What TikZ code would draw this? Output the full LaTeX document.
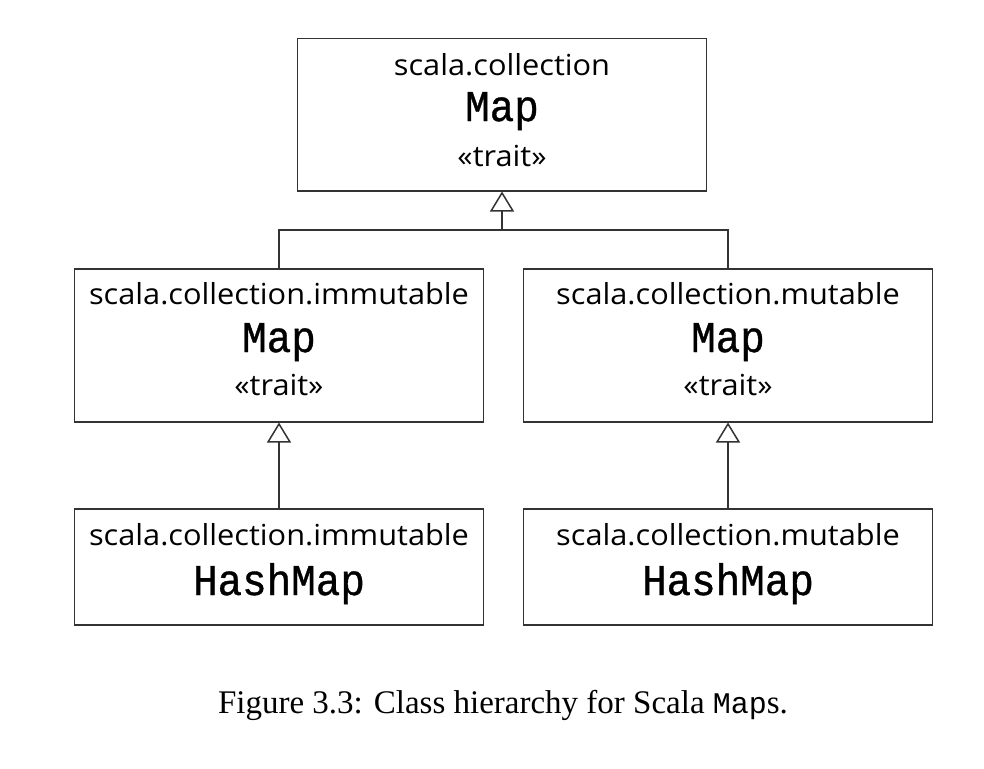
\documentclass[tikz,border=0pt]{standalone}
\usepackage{fontspec}
\setmainfont{Liberation Serif}
\newfontfamily\boxsans[FakeStretch=1.06]{Open Sans}
\newfontfamily\boxmono[FakeBold=0.8,FakeStretch=0.93]{Liberation Mono}
\newfontfamily\capmono{Liberation Mono}
\usetikzlibrary{arrows.meta}
\begin{document}
\begin{tikzpicture}[x=1pt,y=-1pt,
  cls/.style={draw=black!80,line width=1.5pt,fill=white,minimum width=409pt,inner sep=0pt,anchor=north},
  pkg/.style={anchor=base,inner sep=0pt,font=\fontsize{29}{32}\selectfont\boxsans},
  nm/.style={anchor=base,inner sep=0pt,font=\fontsize{44}{48}\selectfont\boxmono},
  inh/.style={draw=black!80,line width=1.5pt,-{Triangle[open,length=20pt,width=24pt,line width=1.5pt]}},
  wire/.style={draw=black!80,line width=1.5pt}]
\useasboundingbox (0,0) rectangle (984,768);
\fill[white] (0,0) rectangle (984,768);
% boxes
\node[cls,minimum height=152pt] (top) at (502,38) {};
\node[cls,minimum height=153pt] (iml) at (279,268) {};
\node[cls,minimum height=153pt] (mul) at (728,268) {};
\node[cls,minimum height=116pt] (imh) at (279,508) {};
\node[cls,minimum height=116pt] (muh) at (728,508) {};
% texts
\node[pkg] (t1) at (502,75) {scala.collection};
\node[nm] (t2) at (502,121) {Map};
\node[pkg] (t3) at (502,166) {«trait»};
\node[pkg] (a1) at (279,304) {scala.collection.immutable};
\node[nm] (a2) at (279,352) {Map};
\node[pkg] (a3) at (279,395) {«trait»};
\node[pkg] (b1) at (728,304) {scala.collection.mutable};
\node[nm] (b2) at (728,352) {Map};
\node[pkg] (b3) at (728,395) {«trait»};
\node[pkg] (c1) at (279,545) {scala.collection.immutable};
\node[nm] (c2) at (279,595) {HashMap};
\node[pkg] (d1) at (728,545) {scala.collection.mutable};
\node[nm] (d2) at (728,595) {HashMap};
% connectors
\coordinate (j) at (502,230);
\draw[wire] (iml.north) |- (j) -| (mul.north);
\draw[inh] (j) -- (top.south);
\draw[inh] (imh.north) -- (iml.south);
\draw[inh] (muh.north) -- (mul.south);
% caption
\node[anchor=base,inner sep=0pt,font=\fontsize{33}{36}\selectfont] (cap) at (503,713) {Figure 3.3: Class hierarchy for Scala {\capmono\fontsize{30}{36}\selectfont Map}s.};
\end{tikzpicture}
\end{document}
